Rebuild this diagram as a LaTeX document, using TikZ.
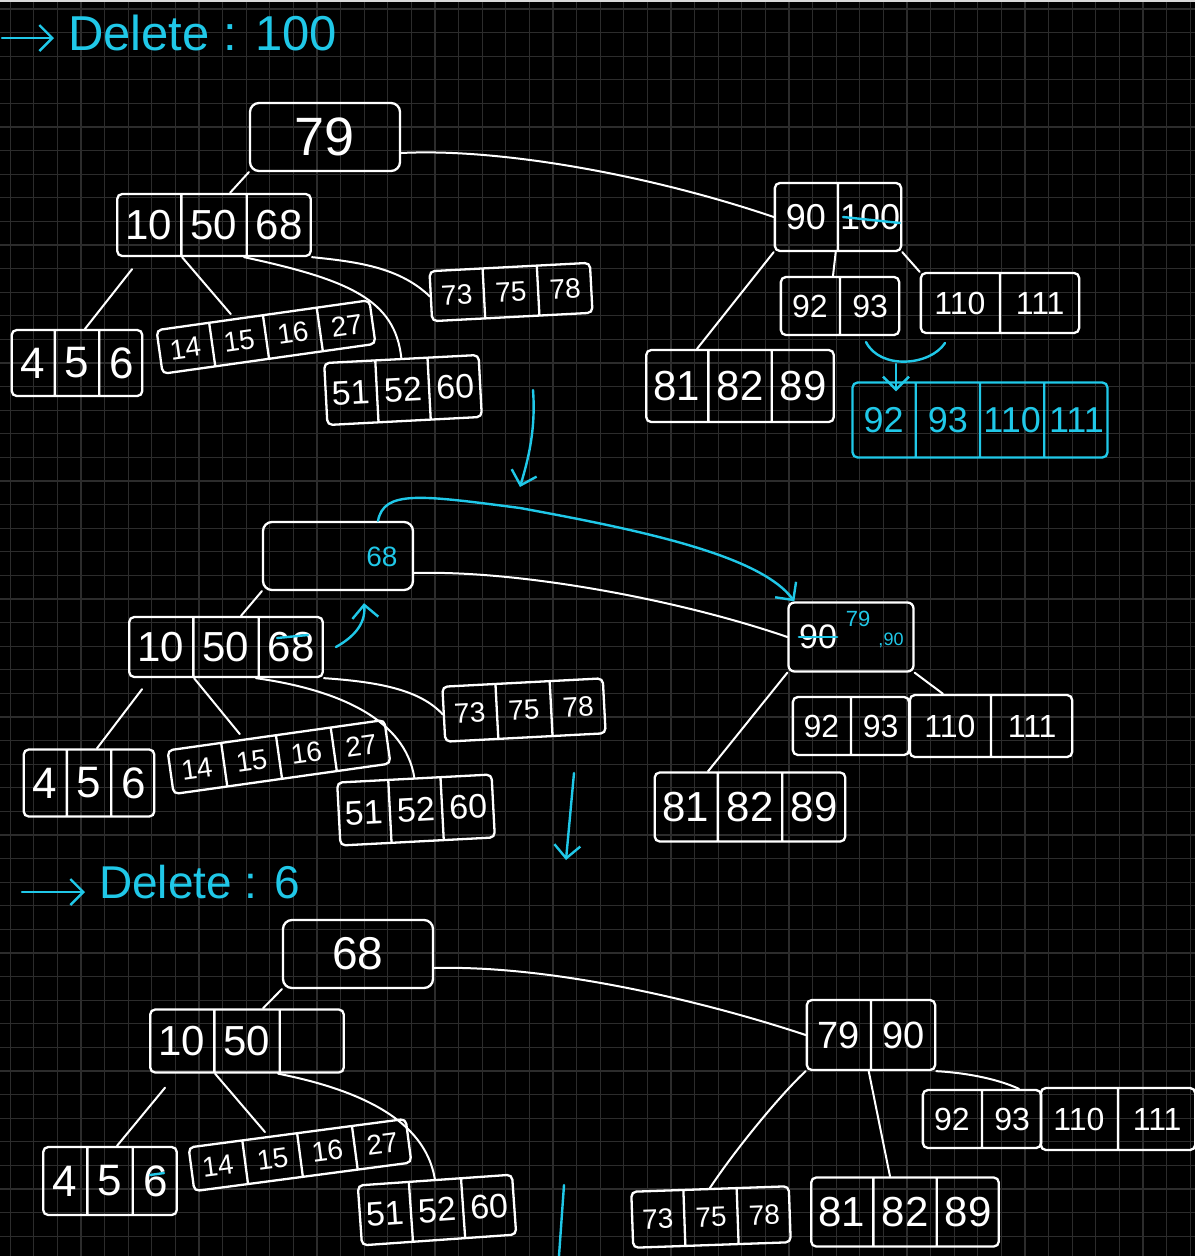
\documentclass[tikz,border=0pt]{standalone}
\usepackage{fontspec}
\setmainfont{Liberation Sans}
\usetikzlibrary{shapes.multipart,arrows.meta}

\definecolor{ink}{RGB}{32,200,232}
\definecolor{gridgray}{RGB}{44,44,44}

\tikzset{
  fs/.style={font=\fontsize{#1}{#1}\selectfont},
  keys/.style={draw=white, text=white, line width=2.3pt, rectangle split,
    rectangle split horizontal, rounded corners=5pt, inner xsep=0pt,
    inner ysep=0pt, align=center},
  cyankeys/.style={keys, draw=ink, text=ink},
  rootbox/.style={draw=white, text=white, line width=2.3pt, rounded corners=9pt},
  link/.style={white, line width=2pt, line cap=round},
  note/.style={ink, line width=2.4pt, line cap=round},
  barb/.style={-{Straight Barb[length=13pt,width=26pt]}},
  gridline/.style={gridgray, line width=1.2pt}
}

\begin{document}
\begin{tikzpicture}[x=1pt,y=-1pt]
      \useasboundingbox (0,0) rectangle (1195,1256);
      \fill[black] (0,0) rectangle (1195,1256);
      \clip (0,0) rectangle (1195,1256);
      \foreach \k in {0,...,53} {
        \draw[gridline] ({10.2+23.6*\k},0) -- ({10.2+23.6*\k},1256);
        \draw[gridline] (0,{9+23.6*\k}) -- (1195,{9+23.6*\k});
      }
      \fill[gray!30] (0,0) rectangle (1195,2);

      % delete 100
      \coordinate (s1) at (2,38);
      \node[fs=49, text=ink, inner sep=0pt, anchor=west] (t1) at (68,33) {Delete : 100};
      \draw[note, barb] (s1) -- ([xshift=-14pt]s1 -| t1.west);

      \node[rootbox, fs=54, minimum width=150pt, minimum height=68pt] (r1) at (325,137) {79};
      \node[keys, fs=42, rectangle split parts=3, text width=63pt, minimum height=62pt] (a1) at (214,225) {10\nodepart{two}50\nodepart{three}68};
      \node[keys, fs=44, rectangle split parts=3, text width=42pt, minimum height=66pt] (l1) at (77,363) {4\nodepart{two}5\nodepart{three}6};
      \node[keys, fs=28, rectangle split parts=4, text width=36pt, inner xsep=8pt, minimum height=44pt, rotate=8] (l2) at (266,337) {14\nodepart{two}15\nodepart{three}16\nodepart{four}27};
      \node[keys, fs=34, rectangle split parts=3, text width=40pt, inner xsep=5pt, minimum height=62pt, rotate=3] (l3) at (403,390) {51\nodepart{two}52\nodepart{three}60};
      \node[keys, fs=28, rectangle split parts=3, text width=40pt, inner xsep=6pt, minimum height=50pt, rotate=3] (l4) at (511,292) {73\nodepart{two}75\nodepart{three}78};
      \node[keys, fs=36, rectangle split parts=2, text width=62pt, minimum height=68pt] (b1) at (838,217) {90\nodepart{two}100};
      \node[keys, fs=32, rectangle split parts=2, text width=58pt, minimum height=58pt] (l5) at (840,306) {92\nodepart{two}93};
      \node[keys, fs=32, rectangle split parts=2, text width=78pt, minimum height=60pt] (l6) at (1000,303) {110\nodepart{two}111};
      \node[keys, fs=42, rectangle split parts=3, text width=61pt, minimum height=72pt] (l7) at (740,386) {81\nodepart{two}82\nodepart{three}89};
      \node[cyankeys, fs=36, rectangle split parts=4, text width=62pt, minimum height=75pt] (m1) at (980,420) {92\nodepart{two}93\nodepart{three}110\nodepart{four}111};

      \draw[link] (r1.south west) -- ([xshift=16pt]a1.north);
      \draw[link] ([yshift=-16pt]r1.east) .. controls (500,148) and (650,175) .. (b1.west);
      \draw[link] ([xshift=16pt,yshift=-12pt]a1.south west) -- ([xshift=8pt]l1.north);
      \draw[link] ([xshift=66pt]a1.south west) -- ([xshift=-32pt]l2.north);
      \draw[link] ([xshift=128pt]a1.south west) .. controls (350,280) and (395,300) .. (l3.north);
      \draw[link] (a1.south east) .. controls (360,262) and (400,268) .. (l4.west);
      \draw[link] (b1.south west) -- ([xshift=-43pt]l7.north);
      \draw[link] ([xshift=62pt]b1.south west) -- ([xshift=-7pt]l5.north);
      \draw[link] (b1.south east) -- (l6.north west);

      \draw[note] ([shift={(5,0)}]b1.center) -- ([shift={(62,6)}]b1.center);
      \draw[note] (866,342) .. controls (880,370) and (930,366) .. (945,343);
      \coordinate (mb) at (896,364);
      \draw[note, barb] (mb) -- ([yshift=-10pt]mb |- m1.north);

      \coordinate (d1) at (533,390);
      \coordinate (d2) at (520,487);
      \draw[note, barb] (d1) .. controls (536,430) and (528,460) .. (d2);

      % after borrowing
      \node[rootbox, minimum width=150pt, minimum height=68pt] (r2) at (338,556) {};
      \node[fs=28, text=ink, inner sep=0pt] (r2k) at (382,557) {68};
      \node[keys, fs=42, rectangle split parts=3, text width=63pt, minimum height=60pt] (a2) at (226,647) {10\nodepart{two}50\nodepart{three}68};
      \node[keys, fs=44, rectangle split parts=3, text width=42pt, minimum height=67pt] (l8) at (89,783) {4\nodepart{two}5\nodepart{three}6};
      \node[keys, fs=28, rectangle split parts=4, text width=37pt, inner xsep=8pt, minimum height=44pt, rotate=8] (l9) at (279,757) {14\nodepart{two}15\nodepart{three}16\nodepart{four}27};
      \node[keys, fs=34, rectangle split parts=3, text width=40pt, inner xsep=5pt, minimum height=63pt, rotate=3] (l10) at (416,810) {51\nodepart{two}52\nodepart{three}60};
      \node[keys, fs=28, rectangle split parts=3, text width=40pt, inner xsep=6pt, minimum height=55pt, rotate=3] (l11) at (524,710) {73\nodepart{two}75\nodepart{three}78};
      \node[rootbox, rounded corners=6pt, minimum width=125pt, minimum height=69pt] (b2) at (851,637) {};
      \node[fs=34, text=white, inner sep=0pt] (b2k) at (818,637) {90};
      \node[fs=22, text=ink, inner sep=0pt] (b2a) at (858,619) {79};
      \node[fs=18, text=ink, inner sep=0pt] (b2b) at (891,640) {,90};
      \node[keys, fs=32, rectangle split parts=2, text width=57pt, minimum height=58pt] (l12) at (851,726) {92\nodepart{two}93};
      \node[keys, fs=32, rectangle split parts=2, text width=80pt, minimum height=62pt] (l13) at (991,726) {110\nodepart{two}111};
      \node[keys, fs=42, rectangle split parts=3, text width=62pt, minimum height=69pt] (l14) at (750,807) {81\nodepart{two}82\nodepart{three}89};

      \draw[link] (r2.south west) -- ([xshift=15pt]a2.north);
      \draw[link] ([yshift=-17pt]r2.east) .. controls (520,570) and (680,600) .. (b2.west);
      \draw[link] ([xshift=14pt,yshift=-11pt]a2.south west) -- ([xshift=8pt]l8.north);
      \draw[link] ([xshift=66pt]a2.south west) -- ([xshift=-36pt]l9.north);
      \draw[link] ([xshift=128pt]a2.south west) .. controls (340,690) and (405,720) .. (l10.north);
      \draw[link] (a2.south east) .. controls (380,682) and (420,690) .. (l11.west);
      \draw[link] (b2.south west) -- ([xshift=-42pt]l14.north);
      \draw[link] (b2.south east) -- ([xshift=-48pt]l13.north);

      \draw[note] ([shift={(51,-9)}]a2.center) -- ([shift={(82,-12)}]a2.center);
      \draw[note] (b2k.west) -- (b2k.east);
      \draw[note, barb] ([xshift=12pt]a2.east) .. controls (352,638) and (366,625) .. ([shift={(26,12)}]r2.south);
      \draw[note, barb] ([xshift=40pt]r2.north) .. controls (384,490) and (420,495) .. (520,508)
        .. controls (640,530) and (760,555) .. ([xshift=7pt]b2.north west);

      \coordinate (d3) at (574,773);
      \coordinate (d4) at (566,860);
      \draw[note, barb] (d3) -- (d4);

      % delete 6
      \coordinate (s2) at (22,892);
      \node[fs=46, text=ink, inner sep=0pt, anchor=west] (t2) at (99,882) {Delete : 6};
      \draw[note, barb] (s2) -- ([xshift=-14pt]s2 -| t2.west);

      \node[rootbox, fs=46, minimum width=150pt, minimum height=68pt] (r3) at (358,954) {68};
      \node[keys, fs=42, rectangle split parts=3, text width=63pt, minimum height=63pt] (a3) at (247,1041) {10\nodepart{two}50\nodepart{three}\phantom{0}};
      \node[keys, fs=44, rectangle split parts=3, text width=43pt, minimum height=68pt] (l15) at (110,1181) {4\nodepart{two}5\nodepart{three}6};
      \node[keys, fs=28, rectangle split parts=4, text width=37pt, inner xsep=8pt, minimum height=44pt, rotate=7.5] (l16) at (300,1155) {14\nodepart{two}15\nodepart{three}16\nodepart{four}27};
      \node[keys, fs=34, rectangle split parts=3, text width=40pt, inner xsep=5pt, minimum height=60pt, rotate=4] (l17) at (437,1210) {51\nodepart{two}52\nodepart{three}60};
      \node[keys, fs=38, rectangle split parts=2, text width=63pt, minimum height=70pt] (b3) at (871,1035) {79\nodepart{two}90};
      \node[keys, fs=28, rectangle split parts=3, text width=41pt, inner xsep=5pt, minimum height=56pt, rotate=2] (l18) at (711,1217) {73\nodepart{two}75\nodepart{three}78};
      \node[keys, fs=42, rectangle split parts=3, text width=61pt, minimum height=69pt] (l19) at (905,1212) {81\nodepart{two}82\nodepart{three}89};
      \node[keys, fs=32, rectangle split parts=2, text width=58pt, minimum height=58pt] (l20) at (982,1119) {92\nodepart{two}93};
      \node[keys, fs=32, rectangle split parts=2, text width=76pt, minimum height=62pt] (l21) at (1118,1119) {110\nodepart{two}111};

      \draw[link] (r3.south west) -- ([xshift=16pt]a3.north);
      \draw[link] ([yshift=-14pt]r3.east) .. controls (550,965) and (700,1000) .. (b3.west);
      \draw[link] ([xshift=16pt,yshift=-14pt]a3.south west) -- ([xshift=7pt]l15.north);
      \draw[link] ([xshift=66pt]a3.south west) -- ([xshift=-32pt]l16.north);
      \draw[link] ([xshift=129pt]a3.south west) .. controls (360,1090) and (425,1120) .. (l17.north);
      \draw[link] (b3.south west) .. controls (780,1095) and (735,1150) .. (l18.north);
      \draw[link] ([xshift=63pt]b3.south west) -- ([xshift=-15pt]l19.north);
      \draw[link] (b3.south east) .. controls (970,1073) and (1000,1080) .. ([xshift=37pt]l20.north);

      \draw[note] ([shift={(40,-6)}]l15.center) -- ([shift={(54,-8)}]l15.center);
      \coordinate (d5) at (564,1185);
      \coordinate (d6) at (559,1256);
      \draw[note] (d5) -- (d6);
    \end{tikzpicture}
\end{document}
